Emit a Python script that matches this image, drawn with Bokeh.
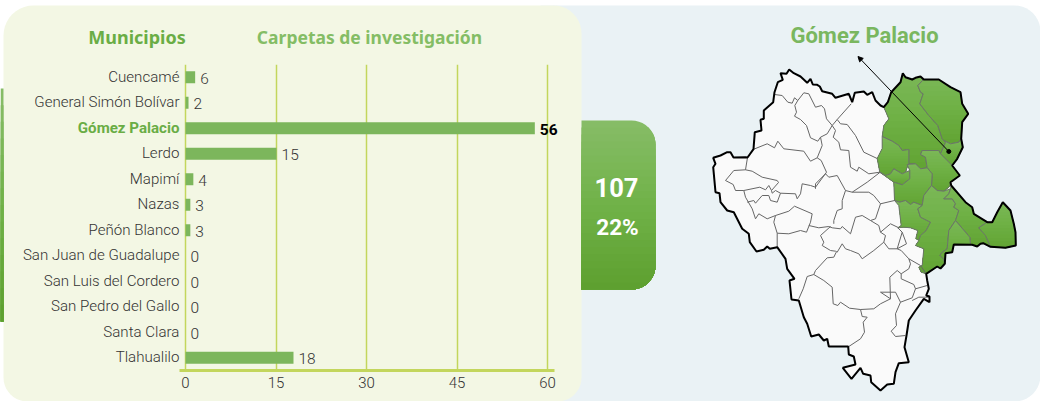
from bokeh.plotting import figure
from bokeh.models import Range1d, FactorRange, FixedTicker, Arrow, NormalHead
from bokeh.core.properties import value
from bokeh.embed import file_html
from bokeh.resources import INLINE
import math

municipios = ["Cuencamé", "General Simón Bolívar", "Gómez Palacio", "Lerdo", "Mapimí", "Nazas",
              "Peñón Blanco", "San Juan de Guadalupe", "San Luis del Cordero", "San Pedro del Gallo",
              "Santa Clara", "Tlahualilo"]
carpetas = [6, 2, 56, 15, 4, 3, 3, 0, 0, 0, 0, 18]
# bar ends as they stand against the axis in the picture
bar_ends = [1.6, 0.5, 57.9, 15.1, 1.3, 0.8, 0.8, 0, 0, 0, 0, 17.9]
x_ticks = [0, 15, 30, 45, 60]
selected = "Gómez Palacio"
total_label = "107"
share_label = "22%"

outline = [(712.7,157.3),(720,155),(726.7,151.7),(730,151.7),(733,157),(745,156.7),(747,157),(753,148.7),(754.3,131.7),
 (761,130),(760,119.3),(763.3,118.3),(763.3,110),(772.7,101.7),(774,91.7),(777.3,81.7),(782.3,79.3),(780,72.7),(786,73.3),
 (788.7,69),(793.3,72.7),(800,76),(806.7,82.3),(810,78.3),(812.3,84),(816.7,84.3),(819.3,86),(821.7,90.7),(831.7,93.3),
 (835,97.3),(848.3,93.3),(851.7,101.7),(854.3,92.3),(863.3,91),(866.7,94.3),(871.7,91.7),(875,100),(880,105),(883.3,106.7),
 (887.3,101.7),(890.7,91.7),(900,81.7),(902.3,72.7),(905,76.7),(911.7,79),(915,77.3),(920,76),(923.3,79),(938.3,79),(950,86.7),
 (960,91.7),(961.7,103.3),(967.7,113.3),(961.7,121.7),(960.7,138.3),(962.3,146.7),(956.7,158.3),(951.7,165),(959.3,175),
 (950,181.7),(950.7,185),(965,201.7),(971.7,206.7),(973.3,213.3),(986.7,221.7),(991.7,221.7),(996.7,211.7),(1002.3,201.7),
 (1010,210),(1013.3,223.3),(1015,231.7),(1015.3,245),(1005,247.3),(990,246.3),(982.7,242.7),(980,243.3),(976.7,246),(971.7,244.3),
 (953.3,244),(951.7,251.7),(945,252.7),(944.3,263.3),(940,268),(936.7,266),(925.7,273.3),(926.7,280),(928.3,288.3),(925.7,295),
 (929,296),(929,301.7),(923.3,298.3),(915,310),(908.3,320),(906,335),(904,346.7),(908.3,361.7),(898.3,362.7),(895,371.7),
 (893.3,383.3),(886.7,384),(880,390),(870.7,381.7),(870,375),(862.7,373.3),(860,367.3),(851,378.3),(842.3,367.3),(855,364),
 (853.3,356),(848.3,354),(847.7,346),(828.3,346),(826.7,338.3),(823.3,340),(818.3,334),(810.7,336),(806.7,323.3),(803.3,316.7),
 (798.3,300),(791,299),(789,280),(794,278.3),(786.7,268.3),(785,258.3),(776.7,246.7),(769.3,248.3),(766.7,246),(763.3,249.3),
 (756,251),(749.3,241.7),(748.3,233.3),(741.7,228.3),(733.3,211.7),(726.7,210),(720,201.7),(719,192.7),(715,191.7),(712.7,166.7),(715,163.3)]

green_areas = [
 [(883.3,106.7),(887.3,101.7),(890.7,91.7),(900,81.7),(902.3,72.7),(905,76.7),(911.7,79),(915,77.3),(920,76),(922.7,79.3),(917.3,85),
  (920,91.7),(922.7,93.3),(919.3,103.3),(928.3,115),(937.3,125),(941.7,138.3),(943.3,140),(945,142),(940,153.3),(938.3,150),(921.7,150),(920,154),
  (925,156.7),(926.7,167.3),(920,168.3),(915,163.3),(908.3,163.3),(908.3,149),(901.7,150),(898.3,145),(891.7,140.7),(881.7,136),
  (883.3,125),(888.3,118.3)],
 [(920,76),(923.3,79),(938.3,79),(950,86.7),(960,91.7),(961.7,103.3),(967.7,113.3),(961.7,121.7),(960.7,138.3),(958.3,141.7),(950,143.3),
  (943.3,140),(941.7,138.3),(937.3,125),(928.3,115),(919.3,103.3),(922.7,93.3),(920,91.7),(917.3,85),(922.7,79.3)],
 [(943.3,140),(950,143.3),(958.3,141.7),(960.7,138.3),(962.3,146.7),(956.7,158.3),(951.7,165),(940,153.3),(945,142)],
 [(921.7,150),(938.3,150),(940,153.3),(951.7,165),(959.3,175),(950,181.7),(949.3,185.7),(943.3,190.7),(936.7,190),(931,185),(931.7,173.3),
  (926.7,167.3),(925,156.7),(920,154)],
 [(891.7,140.7),(898.3,145),(901.7,150),(908.3,149),(908.3,163.3),(906.7,166.7),(905,171.7),(901.7,173.3),(893.3,168.3),(890,173.3),(885,175),
  (879.3,171.7),(876.7,158),(881.7,148),(881.7,136)],
 [(885,175),(890,173.3),(893.3,168.3),(901.7,173.3),(905,171.7),(909.3,170),(909.3,178.3),(901.7,184.3),(893.3,181.7),(879.3,171.7)],
 [(906.7,164),(915,163.3),(920,168.3),(926.7,167.3),(931.7,173.3),(931,185),(923.3,195),(921.7,205),(913.3,201.7),(910,204),(905,200),(899.3,201.7),
  (894,200),(893.3,181.7),(901.7,184.3),(909.3,178.3),(909.3,170)],
 [(894,200),(899.3,201.7),(905,200),(910,204),(913.3,201.7),(921.7,205),(917.3,208.3),(920,216.7),(930,221.7),(925.7,230),(920,235),(918.3,240),
  (915.3,238),(917.3,230),(910,227.3),(903.3,226.7),(897.3,227.3),(900.7,225),(898.3,205)],
 [(931,185),(936.7,190),(943.3,190.7),(950,188.3),(948.3,193.3),(943.3,198.3),(951.7,198.3),(955,203.3),(953.3,206.7),(958.3,210),(955,220),
  (948.3,230),(946.7,248.3),(941.7,251.7),(939.3,255),(943.3,258.3),(944.3,263.3),(940,268),(936.7,266),(925.7,273.3),(920.7,271.7),(918.3,266.7),
  (921.7,265),(923.3,248.3),(915,245),(918.3,240),(920,235),(925.7,230),(930,221.7),(920,216.7),(917.3,208.3),(921.7,205),(923.3,195)],
 [(950.7,185),(965,201.7),(971.7,206.7),(973.3,213.3),(986.7,221.7),(978.3,227.3),(985,235),(990,246.3),(982.7,242.7),(980,243.3),(976.7,246),
  (971.7,244.3),(970,244),(969.3,236.7),(955,220),(958.3,210),(953.3,206.7),(955,203.3),(951.7,198.3),(943.3,198.3),(948.3,193.3),(950,188.3)],
 [(955,220),(969.3,236.7),(970,244),(953.3,244),(951.7,251.7),(945,252.7),(944.3,263.3),(943.3,258.3),(939.3,255),(941.7,251.7),(946.7,248.3),(948.3,230)],
 [(986.7,221.7),(991.7,221.7),(996.7,211.7),(1002.3,201.7),(1010,210),(1013.3,223.3),(1015,231.7),(1015.3,245),(1005,247.3),(990,246.3),(985,235),(978.3,227.3)],
]

inner_borders = [
 [(774,94),(781.7,95),(787.3,101.7),(791.7,102.7),(794,97.3),(797.3,100),(803.3,92.3),(808.3,93.3),(815,106.7),(821,105),(824,108.3),(826,118.3),(831.7,125),(826.7,133.3),(820,136.7),(817.3,140.7),(810,137.3),(806,125),(800,119),(794,115.7),(796,111.7),(794.3,105),(797.3,100)],
 [(831.7,125),(836.7,119),(850.7,103.3)],
 [(836.7,119),(840,123.3),(846.7,124),(855,135),(863.3,151.7),(876.7,158)],
 [(831.7,125),(835,130),(832.7,136.7),(838.3,141.7),(840,149.3),(848.3,150),(850,166.7),(856.7,170.7),(858.3,166.7),(868.3,173.3),(879.3,171.7)],
 [(820,136.7),(821.7,145),(816.7,157.3),(820.7,160),(826,171.7),(815,186.7),(810,185),(801.7,183.3),(800,193.3),(796.7,198.3),(795,193.3),(780,192.7),(776.7,201.7),(770,200),(768.3,195),(761.7,195),(755,202.7),(753.3,200),(746.7,201.7)],
 [(753.3,148.7),(766.7,143.3),(774,147.3),(777.3,140.7),(783.3,148.3),(803.3,150.7),(810,160.7),(816.7,157.3)],
 [(747,157),(745,169.3),(751.7,170.7),(761.7,176.7),(776.7,180),(778,182),(771,190),(768.3,185),(765,189.3),(759.3,186.7),(743.3,190),(735,190),(732.7,184),(725,180),(733.3,170),(745,169.3)],
 [(743.3,190),(745,196.7),(751.7,208.3),(755,218.3),(758.3,213.3),(766.7,218.3),(775,215),(773.3,221.7),(776.7,232.7),(776.7,246.7)],
 [(775,215),(788.3,210.7),(794,205.7),(811.7,213.3),(810,221.7),(806,231.7),(800,230),(788.3,233.3),(776.7,232.7)],
 [(771,190),(771.7,192.7),(775,190),(780,192.7)],
 [(808.3,225),(818.3,227.3),(828.3,226),(831.7,227.3),(840,228.3),(841.7,226),(850,233.3)],
 [(830,226),(820,235),(823.3,241.7),(821.7,245),(830,250),(835,250.7),(836.7,251.7),(841.7,243.3),(845,248.3),(850,250),(858.3,253.3),(861.7,258.3),(873.3,250),(883.3,241.7)],
 [(835.7,251.7),(833.3,256.7),(826.7,257.3),(815,270),(813.3,274),(806.7,276),(802.7,288.3),(798.3,298.3)],
 [(833.3,223.3),(833.3,220),(836.7,210),(841.7,208.3),(841.7,200),(845,190),(836.7,175),(828.3,176.7),(825,173.3),(815,183.3),(815,188.3)],
 [(845,190),(851.7,191.7),(866.7,181.7),(879.3,172)],
 [(851.7,191.7),(868.3,191.7),(873.3,195),(880,203.3),(894,200)],
 [(880,203.3),(875,218.3),(870,220),(861.7,215),(855,216.7),(850,233.3)],
 [(870,220),(878.3,225),(880,231.7),(890,223.3),(898.3,227.3)],
 [(880,231.7),(885,235),(883.3,241.7),(888.3,248.3),(896.7,248.3),(901.7,231.7),(897.3,227.3)],
 [(896.7,248.3),(906,243.3),(901.7,231.7)],
 [(896.7,248.3),(900.7,250),(908.3,258.3),(920,265),(925.7,273.3)],
 [(908.3,258.3),(910,263.3),(908.3,268.3),(900.7,273.3),(896.7,270),(889.3,276.7),(890,298.3),(880,303.3),(873.3,308.3),(860,309),(849,307.7),(840,301.7),(837.3,305),(832.7,303.3),(831.7,286.7),(823.3,280),(813.3,274)],
 [(900.7,273.3),(900.7,278.3),(913.3,284),(915,288.3),(926.7,285)],
 [(915,288.3),(911.7,297.3),(900,301.7),(895,291.7),(880,291.7),(890,298.3)],
 [(911.7,300),(918.3,296.7),(929,296.7)],
 [(860,309),(861.7,316),(866.7,316.7),(862.7,321.7),(864,331.7),(860,338.3),(848.3,346)],
 [(900,301.7),(895,313.3),(896,325),(890.7,330.7),(895,336),(905,335)],
]
arrow_tail = (948.3, 151)
arrow_tip = (857.5, 56)


def rounded(x0, y0, x1, y1, tl, tr, br, bl, n=10):
    """Outline of a box with a radius for each corner (pixels, y down)."""
    pts = []
    corners = [(x0 + tl, y0 + tl, tl, 180), (x1 - tr, y0 + tr, tr, 270), (x1 - br, y1 - br, br, 0), (x0 + bl, y1 - bl, bl, 90)]
    for cx, cy, r, a0 in corners:
        for i in range(n + 1):
            a = math.radians(a0 + 90 * i / n)
            pts.append((cx + r * math.cos(a), cy + r * math.sin(a)))
    return pts


def clip_below(poly, yc):
    out = []
    for i, (x1, y1) in enumerate(poly):
        x2, y2 = poly[(i + 1) % len(poly)]
        if y1 >= yc:
            out.append((x1, y1))
        if (y1 >= yc) != (y2 >= yc):
            t = (yc - y1) / (y2 - y1)
            out.append((x1 + t * (x2 - x1), yc))
    return out


def stops(c0, c1, c2, t):
    a, b, u = (c0, c1, t / 0.5) if t < 0.5 else (c1, c2, (t - 0.5) / 0.5)
    return "#%02x%02x%02x" % tuple(round(p + (q - p) * u) for p, q in zip(a, b))


def gradient(p, poly, c0, c1, c2, n=14):
    ys = [q[1] for q in poly]
    top, bottom = min(ys), max(ys)
    xs_all, ys_all, cols = [], [], []
    for i in range(n):
        part = clip_below(poly, top + (bottom - top) * i / n) if i else poly
        if len(part) < 3:
            continue
        xs_all.append([q[0] for q in part])
        ys_all.append([q[1] for q in part])
        cols.append(stops(c0, c1, c2, i / (n - 1)))
    p.patches(xs_all, ys_all, fill_color=cols, line_color=None)


ROW_LIGHT = "Roboto Light"
TOP, MID, LOW = (134, 188, 102), (112, 178, 72), (94, 160, 48)
MAP_TOP, MAP_MID, MAP_LOW = (122, 183, 86), (110, 176, 68), (98, 164, 52)

# ---------- backdrop: panels, map, headings
bg = figure(width=1040, height=401, x_range=Range1d(0, 1040), y_range=Range1d(401, 0),
            output_backend="svg", toolbar_location=None, min_border=0, outline_line_color=None,
            background_fill_color=None, border_fill_color=None)
bg.axis.visible = False
bg.grid.visible = False
bg.styles = {"position": "absolute", "left": "0px", "top": "0px"}


def flat(p, poly, color):
    p.patch([q[0] for q in poly], [q[1] for q in poly], fill_color=color, line_color=None)


flat(bg, rounded(540, 5, 1040, 401, 0, 26, 26, 0), "#eaf2f5")
flat(bg, rounded(3, 5, 581, 401, 30, 28, 24, 24), "#f3f7e4")
gradient(bg, rounded(0, 88, 3, 321, 0, 0, 0, 0, n=1), TOP, MID, LOW)
gradient(bg, rounded(581, 120, 655, 289, 0, 24, 24, 0), TOP, MID, LOW, n=24)

flat(bg, outline, "#fafafa")
for area in green_areas:
    gradient(bg, area, MAP_TOP, MAP_MID, MAP_LOW)
    bg.patch([q[0] for q in area], [q[1] for q in area], fill_color=None, line_color="#6b7568", line_width=1)
bg.multi_line([[q[0] for q in b] for b in inner_borders], [[q[1] for q in b] for b in inner_borders],
              line_color="#666666", line_width=1)
bg.patch([q[0] for q in outline], [q[1] for q in outline], fill_color=None, line_color="#000000", line_width=2)

bg.add_layout(Arrow(end=NormalHead(size=5, fill_color="#000000", line_color="#000000"),
                    x_start=arrow_tail[0], y_start=arrow_tail[1], x_end=arrow_tip[0], y_end=arrow_tip[1],
                    line_color="#000000", line_width=1))
bg.scatter([arrow_tail[0]], [arrow_tail[1]], size=4, color="#000000")


def label(p, x, y, txt, size, color, font, bold=True, align="center"):
    p.text([x], [y], text=[txt], text_font=value(font), text_font_size=size, text_color=color,
           text_font_style="bold" if bold else "normal", text_align=align, text_baseline="middle")


label(bg, 136.5, 36, "Municipios", "18px", "#6aad45", "Noto Sans")
label(bg, 369, 36, "Carpetas de investigación", "17.5px", "#84bd65", "Noto Sans")
label(bg, 864, 35, "Gómez Palacio", "22px", "#7ab75f", "Roboto")
label(bg, 616, 187, total_label, "25.5px", "#ffffff", "Roboto")
label(bg, 617, 226, share_label, "22.5px", "#ffffff", "Roboto")

# ---------- the bar chart itself, over the backdrop
PX = (547 - 185) / 60
chart = figure(width=570, height=401, x_range=Range1d(-185 / PX, (560 - 185) / PX),
               y_range=FactorRange(factors=list(reversed(municipios))),
               output_backend="svg", toolbar_location=None, min_border_left=0, min_border_right=10,
               min_border_top=64, min_border_bottom=31, outline_line_color=None,
               background_fill_color=None, border_fill_color=None)
chart.styles = {"position": "absolute", "left": "0px", "top": "0px"}
chart.yaxis.visible = False
chart.ygrid.visible = False
chart.xgrid.ticker = FixedTicker(ticks=x_ticks)
chart.xgrid.grid_line_color = "#c3d65c"
chart.xgrid.grid_line_width = 1.5
chart.xaxis.ticker = FixedTicker(ticks=x_ticks)
chart.xaxis.bounds = (-1, 61.2)
chart.xaxis.axis_line_color = "#c3d65c"
chart.xaxis.axis_line_width = 3
chart.xaxis.major_tick_line_color = None
chart.xaxis.minor_tick_line_color = None
chart.xaxis.major_label_text_font = ROW_LIGHT
chart.xaxis.major_label_text_font_size = "15px"
chart.xaxis.major_label_text_color = "#333333"
chart.xaxis.major_label_standoff = 0

chart.hbar(y=municipios, right=bar_ends, left=0, height=0.47, fill_color="#7cb65c", line_color=None)
chart.text(x=[-1] * len(municipios), y=municipios, text=municipios,
           text_font=[("Roboto" if m == selected else ROW_LIGHT) for m in municipios],
           text_font_style=["bold" if m == selected else "normal" for m in municipios],
           text_color=["#6aad45" if m == selected else "#333333" for m in municipios],
           text_font_size="15.1px", text_align="right", text_baseline="middle", y_offset=-0.5)
chart.text(x=bar_ends, y=municipios, text=[str(v) for v in carpetas],
           text_font=[("Roboto" if m == selected else ROW_LIGHT) for m in municipios],
           text_font_style=["bold" if m == selected else "normal" for m in municipios],
           text_color=["#000000" if m == selected else "#333333" for m in municipios],
           text_font_size="15.5px", text_align="left", text_baseline="middle", x_offset=5, y_offset=1)

open("out.html", "w").write(file_html((bg, chart), INLINE))
